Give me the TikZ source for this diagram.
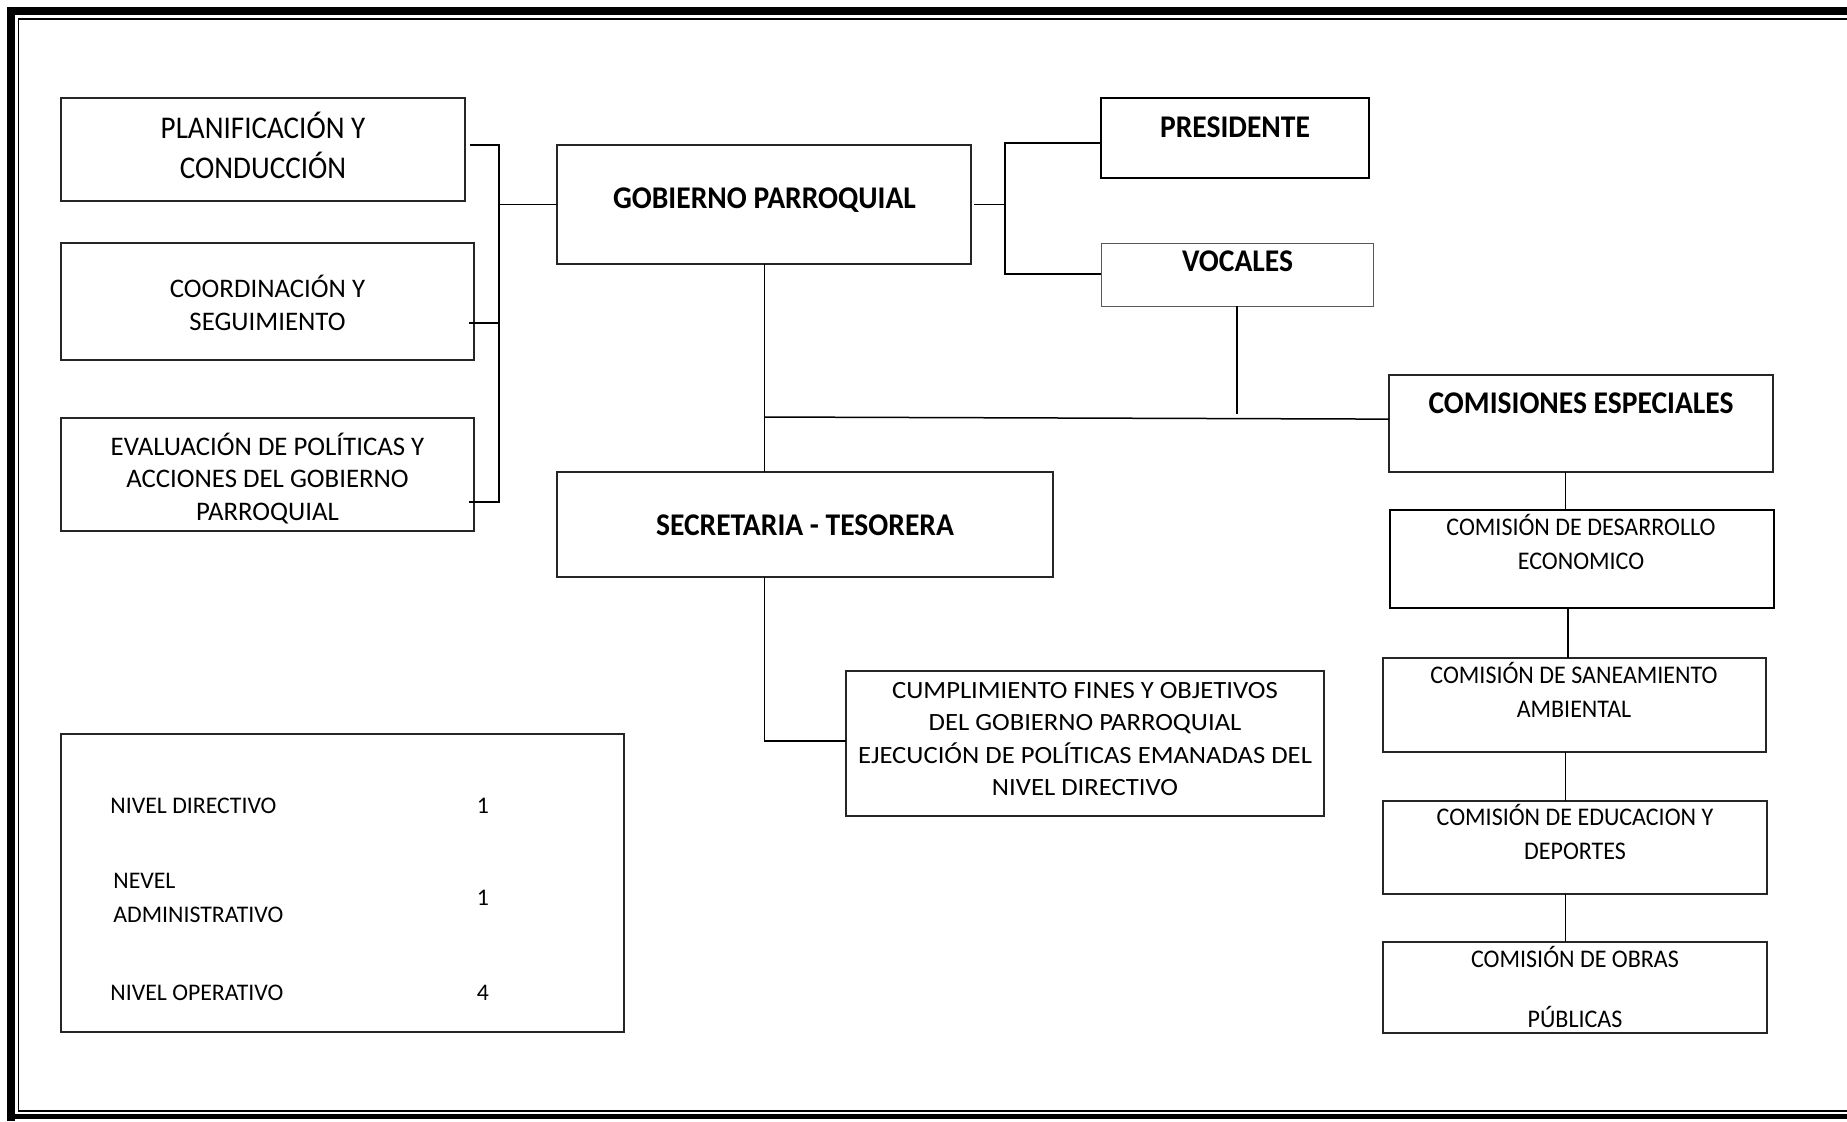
\documentclass[tikz,border=0pt]{standalone}
\usepackage{fontspec}
\setmainfont{Carlito}
\newfontfamily\fA{Carlito}[FakeStretch=0.92]
\newfontfamily\fB{Carlito}[FakeStretch=1.0]
\newfontfamily\fC{Carlito}[FakeStretch=0.945]
\newfontfamily\fD{Carlito}[FakeStretch=1.075]
\newfontfamily\fT{Carlito}[FakeStretch=0.935]
\tikzset{
  box/.style={draw=black!85, line width=0.75pt, inner sep=0pt, outer sep=0pt, rectangle},
  thickbox/.style={line width=1.25pt, draw=black},
  thinbox/.style={line width=0.5pt, draw=black!65},
  link/.style={draw=black, line width=0.75pt},
  ttl/.style={font=\fT\bfseries\fontsize{15.8}{19}\selectfont, inner sep=0pt, anchor=base},
  plantxt/.style={font=\fA\fontsize{15.8}{20}\selectfont, align=center, inner sep=0pt},
  coordtxt/.style={font=\fB\fontsize{13.4}{16.25}\selectfont, align=center, inner sep=0pt},
  comtxt/.style={font=\fC\fontsize{12.7}{17}\selectfont, align=center, inner sep=0pt},
  cumtxt/.style={font=\fD\fontsize{12.4}{16.2}\selectfont, align=center, inner sep=0pt},
  legtxt/.style={font=\fB\fontsize{11.9}{17}\selectfont, align=left, inner sep=0pt},
}
\newcommand\bx[6][]{\node[box,#1,minimum width={(#5-#3)*0.5pt},minimum height={(#6-#4)*0.5pt}] (#2) at ({(#3+#5)/2},{(#4+#6)/2}) {};}
\begin{document}
\begin{tikzpicture}[x=0.5pt,y=-0.5pt]
\useasboundingbox (0,0) rectangle (1847,1121);
% page border
\draw[line width=3.6pt] (11,1121) -- (11,11) -- (1860,11);
\draw[line width=2.5pt] (8,1116.5) -- (1860,1116.5);
\draw[line width=0.8pt] (1860,1111) -- (18.5,1111) -- (18.5,19) -- (1860,19);
% boxes
\bx{plan}{61}{98}{465}{201}
\bx{coord}{61}{243}{474}{360}
\bx{eval}{61}{418}{474}{531}
\bx{gob}{557}{145}{971}{264}
\bx[thickbox]{pres}{1101}{98}{1369}{178}
\bx[thinbox]{voc}{1101}{243}{1373}{306}
\bx{com}{1389}{375}{1773}{472}
\bx[thickbox]{des}{1390}{510}{1774}{608}
\bx{san}{1383}{658}{1766}{752}
\bx{edu}{1383}{801}{1767}{894}
\bx{obr}{1383}{942}{1767}{1033}
\bx{sec}{557}{472}{1053}{577}
\bx{cum}{846}{671}{1324}{816}
\bx{leg}{61}{734}{624}{1032}
% texts
\node[plantxt] (tplan) at (263,145) {PLANIFICACIÓN Y\\CONDUCCIÓN};
\node[coordtxt] (tcoord) at (267.5,303) {COORDINACIÓN Y\\SEGUIMIENTO};
\node[coordtxt] (teval) at (267.5,478.5) {EVALUACIÓN DE POLÍTICAS Y\\ACCIONES DEL GOBIERNO\\PARROQUIAL};
\node[ttl] (tgob) at (764.5,208.6) {GOBIERNO PARROQUIAL};
\node[ttl] (tpres) at (1235,137) {PRESIDENTE};
\node[ttl] (tvoc) at (1237.5,271.5) {VOCALES};
\node[ttl] (tcom) at (1581,413) {COMISIONES ESPECIALES};
\node[ttl] (tsec) at (805,535.4) {SECRETARIA - TESORERA};
\node[comtxt] (tdes) at (1581,542) {COMISIÓN DE DESARROLLO\\ECONOMICO};
\node[comtxt] (tsan) at (1574,690) {COMISIÓN DE SANEAMIENTO\\AMBIENTAL};
\node[comtxt] (tedu) at (1575,831.5) {COMISIÓN DE EDUCACION Y\\DEPORTES};
\node[comtxt] (tobr) at (1575,987) {COMISIÓN DE OBRAS\\[13pt]PÚBLICAS};
\node[cumtxt] (tcum) at (1085,739) {CUMPLIMIENTO FINES Y OBJETIVOS\\DEL GOBIERNO PARROQUIAL\\EJECUCIÓN DE POLÍTICAS EMANADAS DEL\\NIVEL DIRECTIVO};
\node[legtxt, anchor=base west] (l1) at (110,813) {NIVEL DIRECTIVO};
\node[legtxt, anchor=west] (l2) at (113,898) {NEVEL\\ADMINISTRATIVO};
\node[legtxt, anchor=base west] (l3) at (110,1000.5) {NIVEL OPERATIVO};
\node[legtxt, anchor=base] (n1) at (483,813) {1};
\node[legtxt, anchor=base] (n2) at (483,905) {1};
\node[legtxt, anchor=base] (n3) at (483,1000.5) {4};
% connector coordinates
\coordinate (s1) at (470,145);
\coordinate (s2) at (469,323);
\coordinate (s3) at (469,502);
\coordinate (bl1) at (499,145);
\coordinate (bl3) at (499,502);
\coordinate (brt) at (1005,143);
\coordinate (brb) at (1005,274);
\coordinate (vend) at (1237,413.5);
\coordinate (hj) at (764.5,417);
\coordinate (cj) at (764.5,741);
\coordinate (cx) at (1565.5,0);
\coordinate (cx2) at (1568,0);
% left bracket
\draw[link] (s1) -- (bl1) -- (bl3) -- (s3);
\draw[link] (s2) -- (s2 -| bl1);
\draw[link] (gob.west) -- (gob.west -| bl1);
% right bracket
\draw[link] ([xshift=1.5pt]gob.east) -- (gob.east -| brt);
\draw[link] (brt -| pres.west) -- (brt) -- (brb) -- (brb -| voc.west);
% vocales down, horizontal to comisiones
\draw[link] (voc.south -| vend) -- (vend);
\draw[link] (hj) -- ([yshift=2.2pt]com.west);
% gobierno to secretaria
\draw[link] (gob.south -| hj) -- (sec.north -| hj);
% secretaria to cumplimiento
\draw[link] (sec.south -| hj) -- (cj) -- (cj -| cum.west);
% comisiones chain
\draw[link] (com.south -| cx) -- (des.north -| cx);
\draw[link] (des.south -| cx2) -- (san.north -| cx2);
\draw[link] (san.south -| cx) -- (edu.north -| cx);
\draw[link] (edu.south -| cx) -- (obr.north -| cx);
\end{tikzpicture}
\end{document}
